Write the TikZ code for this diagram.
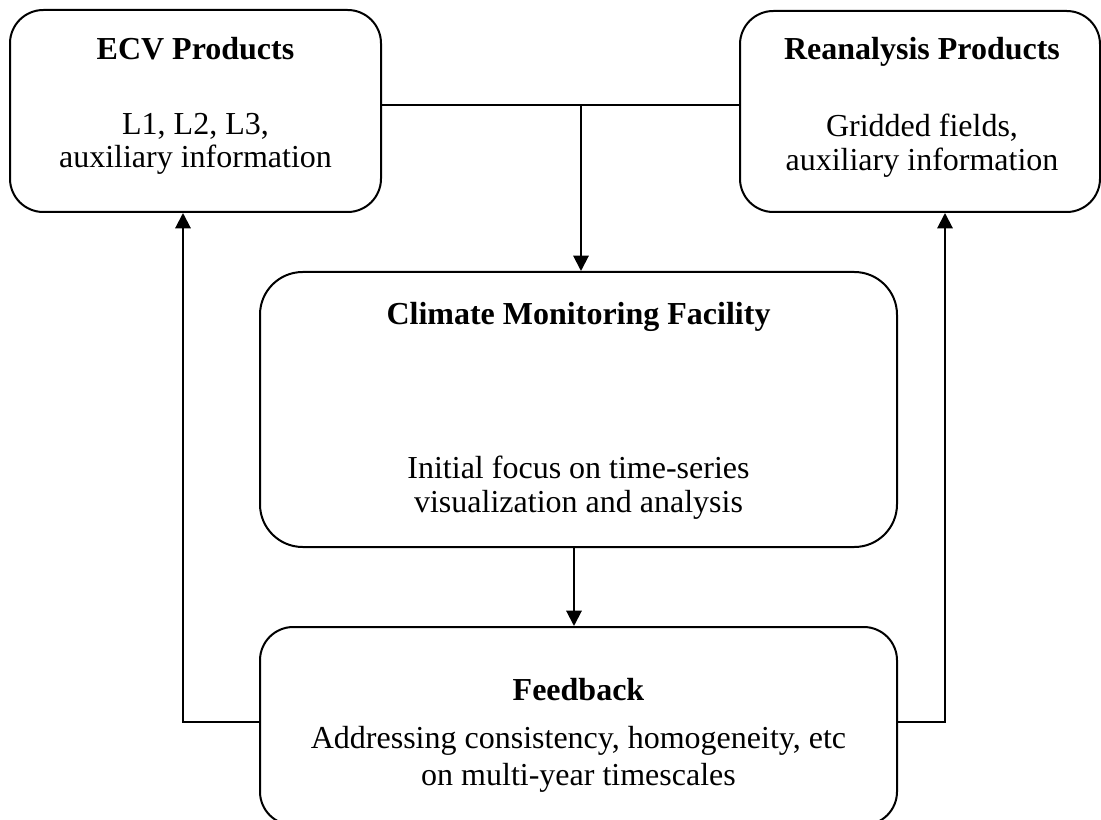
\documentclass[tikz,border=0pt]{standalone}
\usepackage{fontspec}
\setmainfont{Liberation Serif}
\usetikzlibrary{arrows.meta}
\begin{document}
\begin{tikzpicture}[x=0.75pt,y=-0.75pt,
  box/.style={draw, line width=1.5pt, inner sep=0pt},
  ttl/.style={anchor=base, font=\fontsize{24}{26}\selectfont\bfseries, inner sep=0pt},
  txt/.style={anchor=base, font=\fontsize{24}{26}\selectfont, inner sep=0pt},
  link/.style={line width=1.5pt},
  arr/.style={link, -{Triangle[width=11.5pt,length=11.5pt]}}]
\useasboundingbox (0,0) rectangle (1101,820);

% boxes
\node[box, rounded corners=25pt, minimum width=278.25pt, minimum height=151.5pt] (ecv) at (195.5,111) {};
\node[box, rounded corners=25pt, minimum width=270pt, minimum height=150.75pt] (rea) at (920,111.5) {};
\node[box, rounded corners=32pt, minimum width=477.75pt, minimum height=206.25pt] (cmf) at (578.5,409.5) {};
\node[box, rounded corners=25pt, minimum width=477.75pt, minimum height=148.5pt] (fb) at (578.5,726) {};

% texts
\node[ttl] (ecvT) at (195.5,60) {ECV Products};
\node[txt] (ecvA) at (195.5,135) {L1, L2, L3,};
\node[txt] (ecvB) at (195.5,168) {auxiliary information};

\node[ttl] (reaT) at (922,60) {Reanalysis Products};
\node[txt] (reaA) at (922,137) {Gridded fields,};
\node[txt] (reaB) at (922,171) {auxiliary information};

\node[ttl] (cmfT) at (578.5,325) {Climate Monitoring Facility};
\node[txt] (cmfA) at (578.5,478) {Initial focus on time-series};
\node[txt] (cmfB) at (578.5,512) {visualization and analysis};

\node[ttl] (fbT) at (578.5,700) {Feedback};
\node[txt] (fbA) at (578.5,748) {Addressing consistency, homogeneity, etc};
\node[txt] (fbB) at (578.5,785) {on multi-year timescales};

% connectors
\coordinate (j) at (581,105);
\coordinate (d) at (574,0);
\coordinate (l) at (183,722);
\coordinate (r) at (945,722);
\draw[link] (ecv.east |- j) -- (rea.west |- j);
\draw[arr] (j) -- (j |- cmf.north);
\draw[arr] (cmf.south -| d) -- (fb.north -| d);
\draw[arr] (fb.west |- l) -| (ecv.south -| l);
\draw[arr] (fb.east |- r) -| (rea.south -| r);
\end{tikzpicture}
\end{document}
